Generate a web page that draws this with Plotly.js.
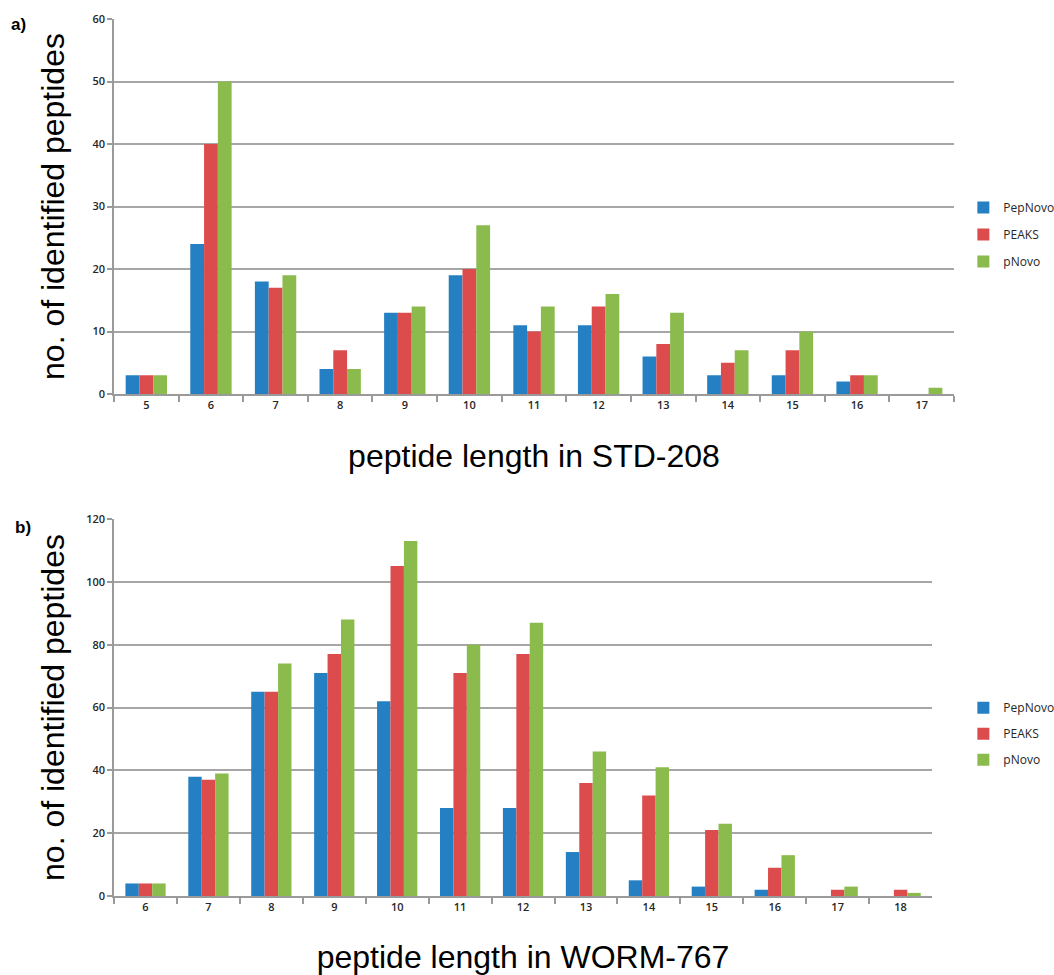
<!DOCTYPE html>
<html>
<head>
<meta charset="utf-8">
<script src="https://cdn.plot.ly/plotly-3.0.1.min.js"></script>
<style>html,body{margin:0;padding:0;background:#fff;}#chart{width:1054px;height:975px;}</style>
</head>
<body>
<div id="chart"></div>
<script>
// ---- Data: panel a) STD-208 ----
const lengthsA = ["5","6","7","8","9","10","11","12","13","14","15","16","17"];
const pepNovoA = [3,24,18,4,13,19,11,11,6,3,3,2,0];
const peaksA   = [3,40,17,7,13,20,10,14,8,5,7,3,0];
const pNovoA   = [3,50,19,4,14,27,14,16,13,7,10,3,1];

// ---- Data: panel b) WORM-767 ----
const lengthsB = ["6","7","8","9","10","11","12","13","14","15","16","17","18"];
const pepNovoB = [4,38,65,71,62,28,28,14,5,3,2,0,0];
const peaksB   = [4,37,65,77,105,71,77,36,32,21,9,2,2];
const pNovoB   = [4,39,74,88,113,80,87,46,41,23,13,3,1];

const seriesNames = ["PepNovo","PEAKS","pNovo"];
const colors = ["#2480c2","#dd4c4c","#8bbb4c"];

const tickFont = {family:"Open Sans, Noto Sans, Arial, sans-serif", size:11, weight:600, color:"#262626"};
const titleFont = {family:"Liberation Sans, Arial, sans-serif", size:32, color:"#000"};
const legendFont = {family:"Open Sans, Noto Sans, Arial, sans-serif", size:12, color:"#262626"};

function mk(x, y, i, xa, ya, leg) {
  return {
    type:"bar", x:x, y:y, name:seriesNames[i], xaxis:xa, yaxis:ya, legend:leg,
    legendgroup: leg + seriesNames[i],
    marker:{color:colors[i], line:{width:0}},
    hoverinfo:"x+y+name"
  };
}

const data = [
  mk(lengthsA, pepNovoA, 0, "x", "y", "legend"),
  mk(lengthsA, peaksA,   1, "x", "y", "legend"),
  mk(lengthsA, pNovoA,   2, "x", "y", "legend"),
  mk(lengthsB, pepNovoB, 0, "x2", "y2", "legend2"),
  mk(lengthsB, peaksB,   1, "x2", "y2", "legend2"),
  mk(lengthsB, pNovoB,   2, "x2", "y2", "legend2")
];

const xCommon = {
  type:"category", showgrid:false, zeroline:false,
  showline:true, linecolor:"#9a9a9a", linewidth:1.5,
  ticks:"outside", tickson:"boundaries", ticklen:6, tickcolor:"#9a9a9a", tickwidth:1.5,
  tickfont:tickFont, automargin:false
};
const yCommon = {
  showgrid:true, gridcolor:"#a6a6a6", gridwidth:1.5, zeroline:false,
  showline:true, linecolor:"#9a9a9a", linewidth:1.5,
  ticks:"outside", ticklen:5, tickcolor:"#9a9a9a", tickwidth:1.5,
  tickfont:tickFont, automargin:false
};

const layout = {
  width:1054, height:975,
  margin:{l:0, r:0, t:0, b:0, autoexpand:false},
  paper_bgcolor:"#fff", plot_bgcolor:"#fff",
  barmode:"group", bargap:0.36, bargroupgap:0,
  showlegend:true,
  xaxis: Object.assign({}, xCommon, {domain:[0.1082, 0.9051], anchor:"y",
    title:{text:"peptide length in STD-208", font:titleFont, standoff:34}}),
  yaxis: Object.assign({}, yCommon, {domain:[0.5959, 0.9805], anchor:"x", range:[0,60], dtick:10,
    title:{text:"no. of identified peptides", font:titleFont, standoff:18}}),
  xaxis2: Object.assign({}, xCommon, {domain:[0.1082, 0.8843], anchor:"y2",
    title:{text:"peptide length in WORM-767", font:titleFont, standoff:39}}),
  yaxis2: Object.assign({}, yCommon, {domain:[0.0810, 0.4677], anchor:"x2", range:[0,120], dtick:20,
    title:{text:"no. of identified peptides", font:titleFont, standoff:12}}),
  legend:{x:0.914, y:0.802, xanchor:"left", yanchor:"top", font:legendFont,
    traceorder:"grouped", tracegroupgap:8, bgcolor:"rgba(0,0,0,0)", itemwidth:30},
  legend2:{x:0.914, y:0.289, xanchor:"left", yanchor:"top", font:legendFont,
    traceorder:"grouped", tracegroupgap:7, bgcolor:"rgba(0,0,0,0)", itemwidth:30},
  annotations:[
    {text:"<b>a)</b>", xref:"paper", yref:"paper", x:0.009, y:0.975, xanchor:"left", yanchor:"middle",
     showarrow:false, font:{family:"Liberation Sans, Arial, sans-serif", size:17, color:"#000"}},
    {text:"<b>b)</b>", xref:"paper", yref:"paper", x:0.012, y:0.459, xanchor:"left", yanchor:"middle",
     showarrow:false, font:{family:"Liberation Sans, Arial, sans-serif", size:17, color:"#000"}}
  ]
};

Plotly.newPlot("chart", data, layout, {displayModeBar:false});
</script>
</body>
</html>
